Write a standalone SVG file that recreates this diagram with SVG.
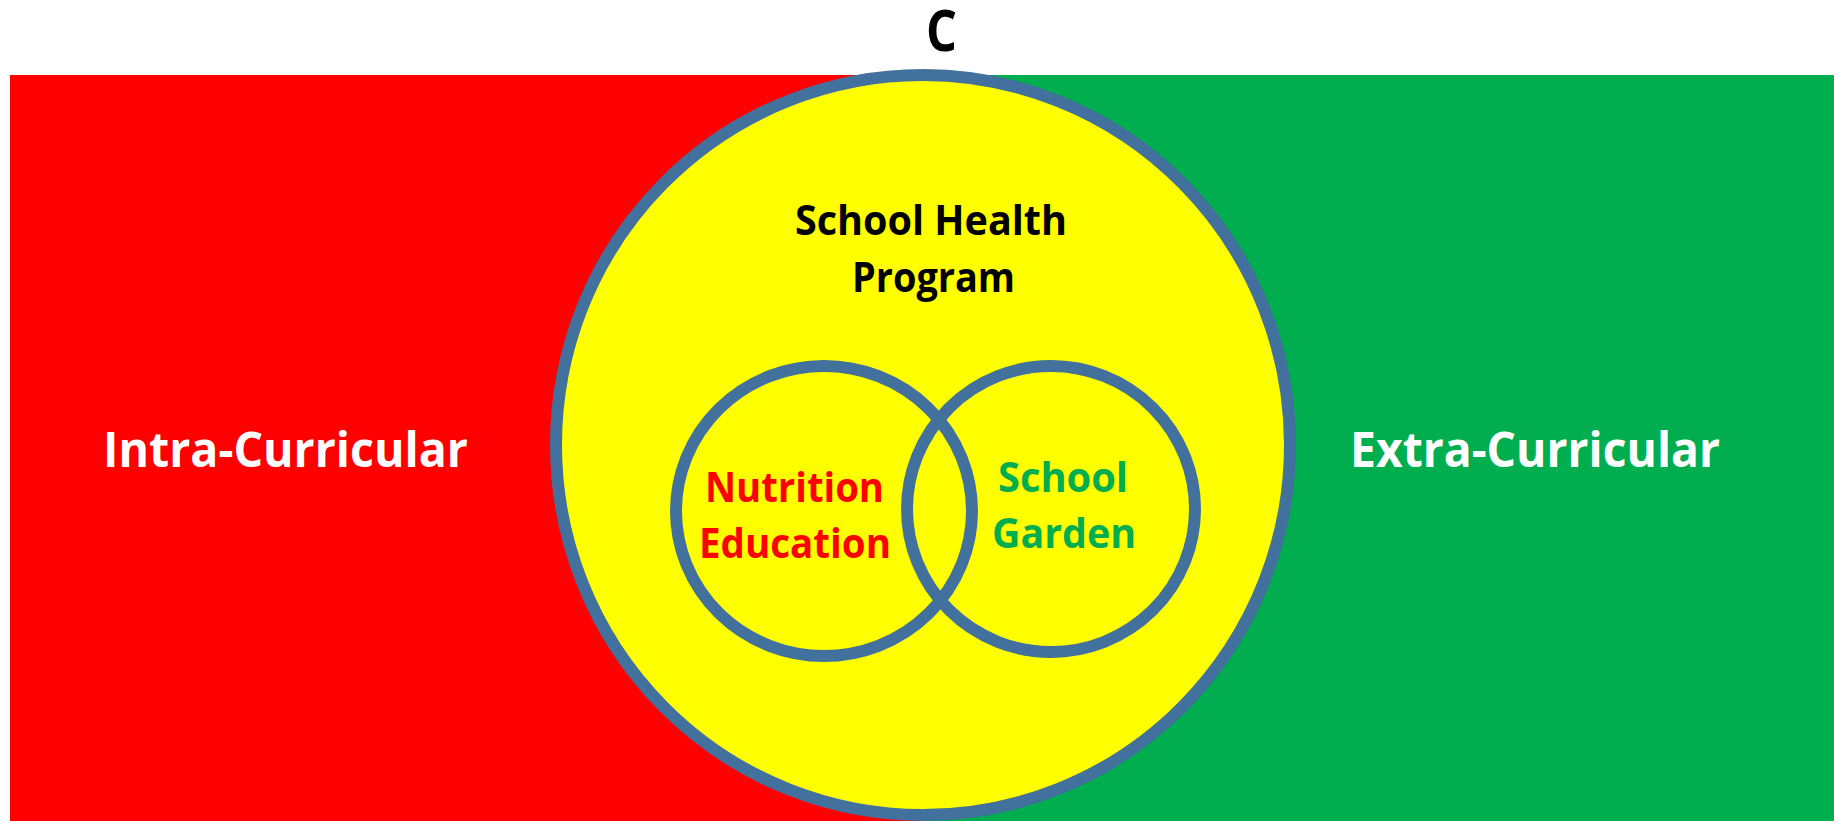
<svg xmlns="http://www.w3.org/2000/svg" width="1834" height="821" viewBox="0 0 1834 821">
<style>
text{font-family:"Open Sans","Noto Sans","Liberation Sans",sans-serif;font-weight:bold;text-anchor:start}
.ring{fill:#ffff00;stroke:#41719c;stroke-width:12}
.inner{fill:none;stroke:#41719c;stroke-width:12}
</style>
<rect width="1834" height="821" fill="#ffffff"/>
<g id="bands">
<rect x="10" y="75" width="914" height="746" fill="#ff0000"/>
<rect x="923" y="75" width="911" height="746" fill="#00ae4f"/>
</g>
<g id="program">
<ellipse class="ring" cx="923" cy="445" rx="367" ry="370"/>
</g>
<g id="nutrition">
<ellipse class="inner" cx="824" cy="511" rx="148" ry="145"/>
</g>
<g id="garden">
<ellipse class="inner" cx="1051" cy="509" rx="144" ry="143"/>
</g>
<g id="labels">
<text x="926" y="51" font-size="58" fill="#000" textLength="31" lengthAdjust="spacingAndGlyphs">C</text>
<text x="795" y="235" font-size="42" fill="#000" textLength="272" lengthAdjust="spacingAndGlyphs">School Health</text>
<text x="852" y="292" font-size="42" fill="#000" textLength="163" lengthAdjust="spacingAndGlyphs">Program</text>
<text x="103" y="467" font-size="49" fill="#fff" textLength="365" lengthAdjust="spacingAndGlyphs">Intra-Curricular</text>
<text x="1350" y="467" font-size="49" fill="#fff" textLength="370" lengthAdjust="spacingAndGlyphs">Extra-Curricular</text>
<text x="705" y="502" font-size="42" fill="#ff0000" textLength="179" lengthAdjust="spacingAndGlyphs">Nutrition</text>
<text x="699" y="558" font-size="42" fill="#ff0000" textLength="192" lengthAdjust="spacingAndGlyphs">Education</text>
<text x="998" y="492" font-size="42" fill="#00ae4f" textLength="130" lengthAdjust="spacingAndGlyphs">School</text>
<text x="992" y="548" font-size="42" fill="#00ae4f" textLength="144" lengthAdjust="spacingAndGlyphs">Garden</text>
</g>
</svg>
